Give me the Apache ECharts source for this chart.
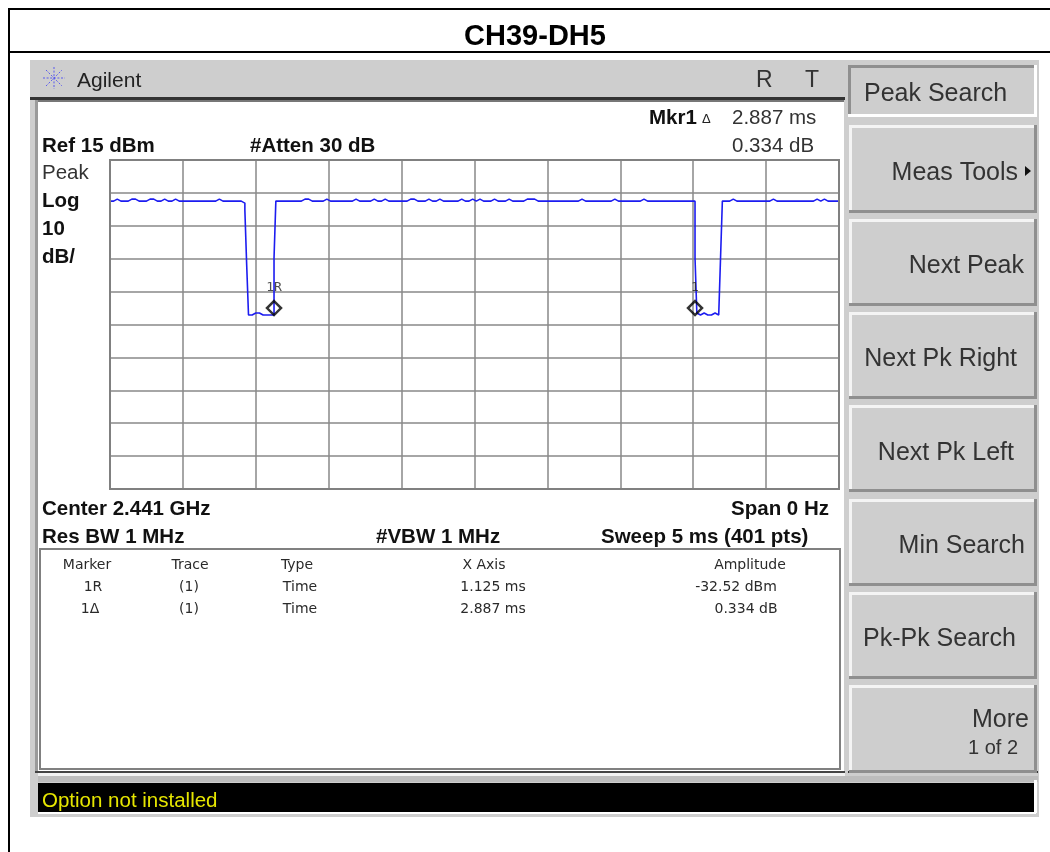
<!DOCTYPE html>
<html><head><meta charset="utf-8">
<style>html,body{margin:0;padding:0;background:#fff}#c{width:1050px;height:852px}</style>
<script src="https://cdn.jsdelivr.net/npm/echarts@6/dist/echarts.min.js"></script>
</head><body><div id="c"></div>
<script>
// Trace: 401 sweep points, amplitude in dBm
const traceDbm = [
2.5,2.5,2.5,3.1,2.5,2.5,2.5,2.5,2.5,2.5,
2.5,3.1,2.5,3.1,2.5,2.5,2.5,2.5,2.5,2.5,
2.5,3.1,3.1,3.1,2.5,2.5,3.1,2.5,2.5,3.1,
2.5,2.5,2.5,2.5,2.5,3.1,2.5,2.5,2.5,2.5,
2.5,2.5,2.5,2.5,2.5,2.5,2.5,2.5,3.1,2.5,
2.5,2.5,2.5,2.5,2.5,2.5,2.5,2.5,2.5,3.1,
2.5,2.5,2.5,2.5,2.5,2.5,2.5,2.5,2.5,2.5,
2.5,2.5,2.5,1.9,-0.2,-16.9,-32.1,-32.1,-32.1,-31.5,
-32.1,-31.5,-32.1,-32.1,-31.5,-32.1,-32.1,-32.1,-31.5,-32.1,
-14.8,2.5,2.5,2.5,2.5,3.1,2.5,2.5,2.5,2.5,
2.5,2.5,2.5,2.5,2.5,2.5,3.1,3.1,3.1,2.5,
2.5,2.5,2.5,2.5,2.5,3.1,2.5,2.5,3.1,2.5,
2.5,2.5,2.5,2.5,2.5,2.5,2.5,2.5,2.5,2.5,
2.5,3.1,2.5,2.5,3.1,2.5,2.5,2.5,2.5,3.1,
2.5,2.5,2.5,2.5,3.1,2.5,2.5,2.5,2.5,2.5,
3.1,2.5,2.5,2.5,2.5,2.5,2.5,2.5,2.5,2.5,
2.5,2.5,2.5,2.5,3.1,2.5,3.1,2.5,2.5,2.5,
2.5,2.5,2.5,2.5,3.1,2.5,2.5,2.5,2.5,2.5,
3.1,2.5,2.5,2.5,2.5,3.1,2.5,2.5,2.5,2.5,
2.5,2.5,3.1,2.5,2.5,2.5,2.5,2.5,3.1,2.5,
2.5,2.5,3.1,2.5,2.5,2.5,2.5,2.5,2.5,2.5,
3.1,2.5,2.5,2.5,2.5,2.5,2.5,2.5,3.1,2.5,
2.5,2.5,2.5,2.5,2.5,2.5,2.5,2.5,3.1,2.5,
3.1,2.5,3.1,2.5,2.5,3.1,2.5,2.5,2.5,2.5,
2.5,3.1,2.5,2.5,2.5,2.5,2.5,2.5,2.5,3.1,
2.5,2.5,2.5,2.5,2.5,2.5,2.5,2.5,3.1,2.5,
2.5,2.5,2.5,2.5,2.5,2.5,2.5,3.1,2.5,2.5,
2.5,2.5,2.5,3.1,2.5,2.5,3.1,2.5,2.5,2.5,
2.5,2.5,2.5,2.5,2.5,2.5,2.5,2.5,2.5,2.5,
2.5,2.5,3.1,2.5,2.5,2.5,2.5,2.5,2.5,3.1,
2.5,2.5,2.5,3.1,2.5,2.5,2.5,2.5,2.5,2.5,
2.5,2.5,2.5,3.1,2.5,2.5,2.5,3.1,2.5,2.5,
2.5,-14.8,-31.5,-32.1,-32.1,-31.5,-32.1,-32.1,-31.5,-32.1,
-32.1,-31.5,-32.1,-32.1,-32.1,-14.8,2.5,2.5,2.5,2.5,
2.5,3.1,2.5,2.5,2.5,2.5,2.5,2.5,2.5,2.5,
2.5,2.5,2.5,2.5,3.1,2.5,2.5,2.5,2.5,2.5,
2.5,2.5,2.5,3.1,2.5,2.5,2.5,2.5,2.5,2.5,
2.5,2.5,2.5,2.5,2.5,2.5,2.5,2.5,2.5,2.5,
3.1,2.5,2.5,2.5,2.5,2.5,2.5,3.1,3.1,2.5,
2.5,3.1,2.5,2.5,3.1,2.5,2.5,2.5,2.5,2.5,
2.5
];
const sweepPoints = traceDbm.map((_, i) => i);
const markerPoints = [[90, -30.0], [321, -30.0]];
const markerNames = ['1R', '1'];
const yTicks = [-85,-75,-65,-55,-45,-35,-25,-15,-5,5,15];

const chartTitle = 'CH39-DH5';
const softKeys = ['Peak Search','Meas Tools','Next Peak','Next Pk Right','Next Pk Left','Min Search','Pk-Pk Search','More'];
const tableHeader = ['Marker','Trace','Type','X Axis','Amplitude'];
const tableRow1 = ['1R','(1)','Time','1.125 ms','-32.52 dBm'];
const tableRow2 = ['1\u0394','(1)','Time','2.887 ms','0.334 dB'];

// ---- instrument chrome ----
const SANS = '"Liberation Sans", Arial, sans-serif';
const g = [];
function rect(x,y,w,h,fill,z){g.push({type:'rect',silent:true,z:z===undefined?-10:z,shape:{x,y,width:w,height:h},style:{fill}});}
function txt(text,x,y,size,opt){opt=opt||{};g.push({type:'text',silent:true,z:5,x,y:y+(opt.dy===undefined?2:opt.dy),style:{text,fill:opt.fill||'#1c1c1c',
  font:(opt.bold?'bold ':'')+size+'px '+(opt.family||SANS),textAlign:opt.align||'left',textVerticalAlign:'middle'}});}
function bold(text,x,y,align){txt(text,x,y,20.5,{bold:true,fill:'#111',align});}
function reg(text,x,y,align){txt(text,x,y,20.5,{fill:'#333',align});}
function small(text,x,y){txt(text,x,y,14,{fill:'#2a2a2a',align:'center',dy:1,family:'"DejaVu Sans", sans-serif'});}

rect(8,8,1042,2,'#000'); rect(8,51,1042,2,'#000'); rect(8,8,2,844,'#000');
rect(30,60,1009,757,'#cecece');
rect(30,97,815,3,'#333333');
rect(35,100,3,672,'#9a9a9a');
rect(38,102,806,669,'#ffffff');
rect(38,100,806,2,'#777777');
rect(35,771,810,2,'#444444');
rect(38,773,807,3,'#f2f2f2');
rect(848,771,190,2,'#333333');
rect(38,776,1000,6,'#bdbdbd');
rect(38,783,996,29,'#000000');
rect(1034,780,3,33,'#ffffff');
rect(38,812,998,2,'#ffffff');

// table box
rect(39,548,802,222,'#808080'); rect(41,550,798,218,'#ffffff');

// softkeys
const keyY = [[65,117],[125,213],[219,306],[312,399],[405,492],[499,586],[592,679],[685,773]];
keyY.forEach((k,i)=>{
  const x=i===0?848:849, w=1037-x, h=k[1]-k[0];
  if(i===0){ rect(x,k[0],w,h,'#ffffff'); rect(x,k[0],w-3,h-3,'#8f8f8f'); rect(x+3,k[0]+3,w-6,h-6,'#cecece'); }
  else { rect(x,k[0],w,h,'#8f8f8f'); rect(x,k[0],w-3,h-3,'#f4f4f4'); rect(x+3,k[0]+3,w-6,h-6,'#cecece'); }
});
const keyPos = [[864,92,'left'],[1018,171,'right'],[1024,264,'right'],[1017,357,'right'],[1014,451,'right'],[1025,544,'right'],[863,637,'left'],[1029,718,'right']];
softKeys.forEach((s,i)=>txt(s,keyPos[i][0],keyPos[i][1],25,{fill:'#333',align:keyPos[i][2]}));
txt('1 of 2',1018,746,20,{fill:'#333',align:'right'});
g.push({type:'polygon',silent:true,z:5,shape:{points:[[1025,166],[1025,176],[1031,171]]},style:{fill:'#111'}});

// logo
[[54,67,54,89],[43,78,65,78],[46,70,62,86],[46,86,62,70]].forEach(l=>g.push({type:'line',silent:true,z:5,
  shape:{x1:l[0],y1:l[1],x2:l[2],y2:l[3]},style:{stroke:'#5a5aee',lineWidth:1,lineDash:[2,1.6]}}));
txt('Agilent',77,79,21,{fill:'#222'});
txt('R',756,79,23,{fill:'#333'}); txt('T',805,79,23,{fill:'#333'});

bold('Mkr1',649,116); txt('\u0394',702,117,13,{fill:'#222'});
reg('2.887 ms',732,116); reg('0.334 dB',732,144);
bold('Ref 15 dBm',42,144); bold('#Atten 30 dB',250,144);
reg('Peak',42,171); bold('Log',42,199); bold('10',42,227); bold('dB/',42,255);
bold('Center 2.441 GHz',42,507); bold('Span 0 Hz',829,507,'right');
bold('Res BW 1 MHz',42,535); bold('#VBW 1 MHz',376,535); bold('Sweep 5 ms (401 pts)',601,535);

const colX=[87,190,297,484,750], rowY=[564,586,608];
tableHeader.forEach((t,i)=>small(t,colX[i],rowY[0]));
const rowX=[93,189,300,493,736];
tableRow1.forEach((t,i)=>small(t,rowX[i],rowY[1]));
tableRow2.forEach((t,i)=>small(t,i===0?90:(i===4?746:rowX[i]),rowY[2]));
txt('Option not installed',42,799,20.5,{fill:'#e6e600'});

const chart = echarts.init(document.getElementById('c'),null,{renderer:'canvas'});
chart.setOption({
  animation:false,
  backgroundColor:'#ffffff',
  title:{text:chartTitle,left:535,top:22,padding:0,textAlign:'center',textStyle:{fontFamily:SANS,fontWeight:'bold',fontSize:29,color:'#000'}},
  grid:{left:110,top:160,width:729,height:329,show:false},
  xAxis:{type:'value',min:0,max:400,interval:40,
    axisLine:{show:false},axisTick:{show:false},axisLabel:{show:false},
    splitLine:{show:true,lineStyle:{color:'#888888',width:1.5}}},
  yAxis:{type:'value',min:-85,max:15,
    axisLine:{show:false},axisLabel:{show:false},
    axisTick:{show:false,customValues:yTicks},
    splitLine:{show:true,lineStyle:{color:'#888888',width:1.5}}},
  series:[
    {type:'line',name:'Trace',data:sweepPoints.map((x,i)=>[x,traceDbm[i]]),showSymbol:false,step:'end',
      lineStyle:{color:'#1c1cf0',width:1.6},z:3,clip:true},
    {type:'scatter',name:'Markers',data:markerPoints,symbol:'diamond',symbolSize:[14,14],z:4,
      itemStyle:{color:'rgba(0,0,0,0)',borderColor:'#000',borderWidth:2.5},
      label:{show:true,position:'top',distance:6,color:'#222',fontSize:13,fontFamily:'"DejaVu Sans Mono", monospace',
        formatter:p=>markerNames[p.dataIndex]}}
  ],
  graphic:{elements:g.concat([{type:'rect',silent:true,z:6,shape:{x:110,y:160,width:729,height:329},
    style:{fill:'transparent',stroke:'#808080',lineWidth:2}}])}
});
</script></body></html>
